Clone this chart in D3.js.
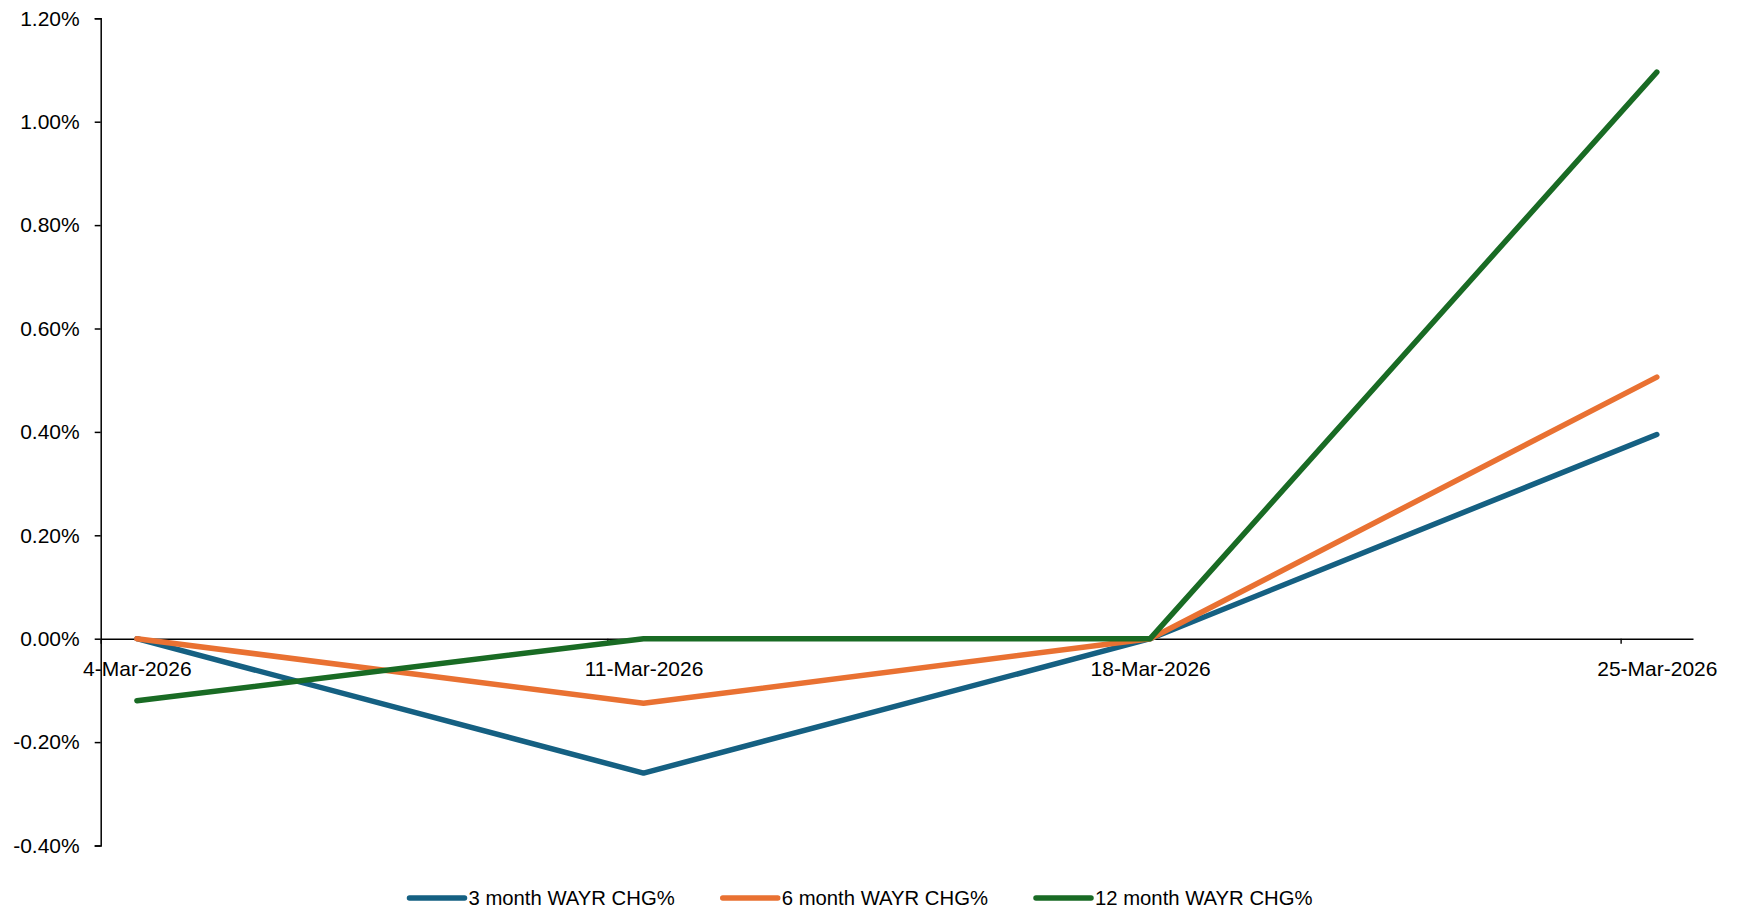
<html>
<head>
    <meta charset="utf-8">
    <style>
        body { margin: 0; background: #fff; }
        text { font-family: "Liberation Sans", Arial, sans-serif; }
    </style>
</head>
<body>
    <svg id="chart" width="1742" height="912"></svg>
    <script src="https://d3js.org/d3.v7.min.js" charset="utf-8"></script>
    <script>
        // data (values in %)
        const dates = ["2026-03-04", "2026-03-11", "2026-03-18", "2026-03-25"]
        const seriesNames = ["3 month WAYR CHG%", "6 month WAYR CHG%", "12 month WAYR CHG%"]
        const wayr3m = [0, -0.26, 0, 0.395]
        const wayr6m = [0, -0.125, 0, 0.506]
        const wayr12m = [-0.12, 0, 0, 1.096]
        const yTicks = [-0.4, -0.2, 0, 0.2, 0.4, 0.6, 0.8, 1.0, 1.2]
        const colors = ["#156082", "#E97132", "#196B24"]

        const series = [wayr3m, wayr6m, wayr12m]
        const parse = d3.utcParse("%Y-%m-%d")
        const dayMs = 24 * 3600 * 1000
        const dateObjs = dates.map(parse)

        let svg = d3.select("#chart")

        // date axis: each day is a slot, points sit in the middle of it
        let x = d3.scaleUtc()
            .domain([new Date(+dateObjs[0] - dayMs / 2), new Date(+dateObjs[dateObjs.length - 1] + dayMs / 2)])
            .range([100.7, 1693])

        let y = d3.scaleLinear()
            .domain([-0.4, 1.2])
            .range([845.5, 18.3])

        let halfDay = (x.range()[1] - x.range()[0]) / (dates.length * 7 - 6) / 2

        // y axis
        let yAxis = d3.axisLeft(y)
            .tickValues(yTicks)
            .tickSize(6)
            .tickPadding(15)
            .tickFormat(d => d.toFixed(2) + "%")
        let gy = svg.append("g")
            .attr("transform", "translate(100.7,0)")
            .call(yAxis)
        gy.select(".domain").attr("stroke", "#000").attr("stroke-width", 1.5)
        gy.selectAll(".tick line").attr("stroke", "#000").attr("stroke-width", 1.5)
        gy.selectAll(".tick text")
            .attr("fill", "#000")
            .style("font-size", "21px")

        // x axis on the zero line
        let xAxis = d3.axisBottom(x)
            .tickValues(dateObjs)
            .tickSize(5)
            .tickSizeOuter(0)
            .tickPadding(17)
            .tickFormat(d3.utcFormat("%-d-%b-%Y"))
        let gx = svg.append("g")
            .attr("transform", `translate(0,${y(0)})`)
            .call(xAxis)
        gx.select(".domain").attr("stroke", "#000").attr("stroke-width", 1.4)
        gx.selectAll(".tick line")
            .attr("stroke", "#000")
            .attr("stroke-width", 1.4)
            .attr("transform", `translate(${-halfDay},0)`)
        gx.selectAll(".tick text")
            .attr("fill", "#000")
            .style("font-size", "21px")

        // lines
        let line = d3.line()
            .x((d, i) => x(dateObjs[i]))
            .y(d => y(d))

        svg.append("g").selectAll("path")
            .data(series)
            .enter()
            .append("path")
            .attr("d", line)
            .attr("fill", "none")
            .attr("stroke", (d, i) => colors[i])
            .attr("stroke-width", 5.5)
            .attr("stroke-linejoin", "round")
            .attr("stroke-linecap", "round")

        // legend
        let legend = svg.append("g")
        let cursor = 0
        seriesNames.forEach((name, i) => {
            let item = legend.append("g").attr("transform", `translate(${cursor},0)`)
            item.append("line")
                .attr("x1", 0).attr("x2", 55)
                .attr("y1", 0).attr("y2", 0)
                .attr("stroke", colors[i])
                .attr("stroke-width", 5.5)
                .attr("stroke-linecap", "round")
            let t = item.append("text")
                .attr("x", 59)
                .attr("y", 0)
                .attr("dy", "0.35em")
                .attr("fill", "#000")
                .style("font-size", "20.3px")
                .text(name)
            cursor += 59 + t.node().getComputedTextLength() + 48
        })
        let legendWidth = cursor - 48
        legend.attr("transform", `translate(${861 - legendWidth / 2},898)`)
    </script>
</body>
</html>
